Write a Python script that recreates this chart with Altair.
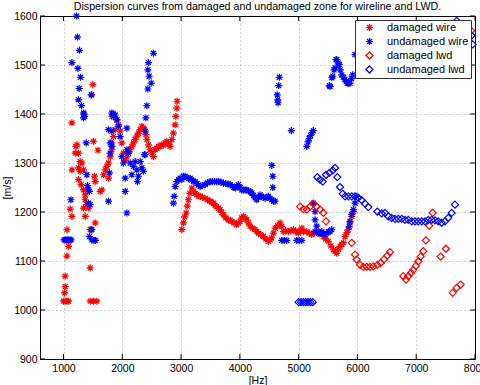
import altair as alt
import pandas as pd

# damaged zone, wireline (red asterisks)
dw_f = [1000, 1030, 1060, 1085, 1017, 1029, 1029, 1058, 1085, 1058,
        1143, 1114, 1143, 1143, 1199, 1211, 1228, 1255, 1255, 1255,
        1284, 1284, 1301, 1313, 1340, 1340, 1340, 1369, 1369, 1369,
        1397, 1425, 1454, 1454, 1454, 1510, 1567, 1482, 1500, 1510,
        1527, 1539, 1539, 1585, 1624, 1652, 1680, 1709, 1737, 1765,
        1765, 1794, 1823, 1823, 1823, 1850, 1879, 1908, 1935, 1964,
        1992, 2020, 2049, 2078, 2105, 2133, 2162, 2190, 2219, 2247,
        2275, 2304, 2333, 2360, 2377, 2400, 2418, 2446, 2474, 2502,
        2530, 2559, 2587, 2615, 2643, 2672, 2700, 2729, 2758, 2786,
        2814, 2843, 2870, 2899, 2911, 2928, 2933,
        3013, 3040, 3060, 3086, 3105, 3125, 3150, 3183, 3210, 3240,
        3268, 3296, 3324, 3360, 3409, 3450, 3494, 3520, 3550, 3580,
        3607, 3635, 3664, 3692, 3720, 3760, 3805, 3834, 3862, 3900,
        3947, 3975, 4004, 4030, 4060, 4090, 4118, 4145, 4174, 4215,
        4259, 4290, 4315, 4355, 4400, 4440, 4485, 4515, 4543, 4570,
        4599, 4640, 4684, 4712, 4740, 4780, 4825, 4868, 4910, 4950,
        4995, 5025, 5053, 5080, 5138, 5180, 5223, 5265, 5308, 5360,
        5421, 5460, 5506, 5550, 5591, 5620, 5648, 5680, 5704, 5735,
        5761, 5789, 5820, 5845, 5874, 5903, 5931]
dw_v = [1018, 1018, 1018, 1018, 1035, 1048, 1069, 1110, 1130, 1164,
        1191, 1206, 1286, 1382, 1320, 1334, 1337, 1320, 1290, 1266,
        1303, 1283, 1256, 1300, 1286, 1245, 1208, 1235, 1225, 1191,
        1215, 1208, 1164, 1086, 1018, 1018, 1018, 1439, 1460, 1344,
        1273, 1262, 1178, 1326, 1242, 1245, 1276, 1286, 1293, 1300,
        1269, 1313, 1327, 1341, 1395, 1354, 1368, 1388, 1378, 1365,
        1341, 1320, 1306, 1313, 1320, 1327, 1334, 1341, 1348, 1355,
        1361, 1368, 1375, 1371, 1368, 1358, 1348, 1337, 1327, 1320,
        1313, 1327, 1330, 1334, 1334, 1337, 1337, 1341, 1344, 1339,
        1334, 1348, 1361, 1378, 1395, 1412, 1426,
        1164, 1178, 1190, 1198, 1212, 1225, 1238, 1249, 1242, 1238,
        1235, 1233, 1232, 1230, 1228, 1225, 1222, 1220, 1218, 1213,
        1211, 1208, 1205, 1199, 1194, 1188, 1184, 1183, 1181, 1178,
        1174, 1178, 1181, 1188, 1191, 1188, 1184, 1178, 1171, 1167,
        1164, 1160, 1157, 1154, 1150, 1145, 1140, 1143, 1147, 1157,
        1167, 1172, 1178, 1170, 1160, 1162, 1160, 1162, 1164, 1160,
        1157, 1162, 1167, 1160, 1160, 1157, 1154, 1157, 1160, 1155,
        1150, 1145, 1140, 1131, 1123, 1120, 1116, 1124, 1130, 1134,
        1137, 1150, 1158, 1164, 1178, 1191, 1201]

# undamaged zone, wireline (blue asterisks)
uw_f = [1010, 1030, 1050, 1070, 1090, 1110, 1130, 1126, 1143, 1221,
        1238, 1245, 1255, 1267, 1272, 1289, 1306, 1340, 1347, 1340,
        1360, 1386, 1397, 1408, 1425, 1425, 1442, 1454, 1471, 1482,
        1442, 1482, 1520, 1545, 1471,
        1765, 1765, 1782, 1794, 1794, 1823, 1823, 1823, 1845, 1850,
        1879, 1908, 1935, 1964, 1992, 2020, 2049, 2049, 2078, 2078,
        2105, 2134, 2162, 2190, 2219, 2248, 2258, 2275, 2304, 2333,
        2360, 2389, 2078,
        2377, 2389, 2401, 2418, 2435, 2457, 2491, 2435, 2445, 2530,
        2870, 2882, 2899, 2928, 2960, 2984,
        3013, 3040, 3069, 3100, 3125, 3154, 3180, 3210, 3239, 3270,
        3296, 3324, 3360, 3409, 3450, 3494, 3530, 3570, 3607, 3640,
        3680, 3720, 3760, 3800, 3834, 3870, 3900, 3919, 3950, 3975,
        4005, 4033, 4060, 4090, 4118, 4150, 4180, 4203, 4230, 4260,
        4288, 4315, 4344, 4370, 4400, 4429, 4460, 4485, 4515, 4543,
        4570, 4599, 4543, 4560, 4560,
        4637, 4645, 4650, 4661, 4672, 4876,
        5138, 5160, 5180, 5200, 5230, 5250,
        4713, 4755, 4798, 4968, 5010, 5053,
        5250, 5279, 5279, 5308, 5279, 5340, 5370, 5393, 5420, 5449,
        5480, 5506, 5534, 5563, 5860, 5874, 5903, 5931, 5959, 5988,
        5522, 5534, 5563, 5580, 5602, 5619, 5636, 5648, 5675, 5692,
        5710, 5733, 5760, 5789, 5810, 5828, 5850, 5874, 5900, 5920,
        5959]
uw_v = [1143, 1143, 1143, 1143, 1143, 1143, 1143, 1225, 1505, 1600,
        1557, 1493, 1429, 1452, 1530, 1475, 1417, 1402, 1400, 1392,
        1395, 1341, 1276, 1254, 1245, 1218, 1242, 1215, 1439, 1164,
        1150, 1143, 1142, 1142, 1164,
        1222, 1368, 1280, 1341, 1320, 1402, 1365, 1334, 1400, 1395,
        1398, 1388, 1375, 1354, 1313, 1300, 1269, 1242, 1198, 1371,
        1320, 1300, 1276, 1293, 1303, 1286, 1262, 1273, 1303, 1290,
        1283, 1317, 1327,
        1317, 1365, 1392, 1417, 1451, 1477, 1463, 1490, 1505, 1524,
        1218, 1232, 1252, 1262, 1266, 1269,
        1266, 1273, 1273, 1270, 1268, 1269, 1265, 1263, 1262, 1258,
        1255, 1252, 1254, 1256, 1260, 1262, 1262, 1262, 1262, 1262,
        1261, 1259, 1258, 1257, 1256, 1253, 1250, 1249, 1252, 1256,
        1250, 1245, 1245, 1245, 1245, 1243, 1241, 1239, 1234, 1229,
        1225, 1230, 1235, 1232, 1230, 1228, 1230, 1232, 1228, 1225,
        1222, 1222, 1295, 1273, 1250,
        1439, 1429, 1423, 1458, 1475, 1366,
        1334, 1343, 1350, 1356, 1362, 1366,
        1142, 1142, 1142, 1142, 1142, 1142,
        1218, 1201, 1184, 1171, 1160, 1157, 1158, 1160, 1156, 1154,
        1157, 1160, 1160, 1164, 1170, 1181, 1195, 1205, 1218, 1232,
        1458, 1456, 1474, 1477, 1490, 1494, 1511, 1511, 1504, 1501,
        1490, 1480, 1475, 1470, 1466, 1463, 1463, 1463, 1472, 1480,
        1521]

# damaged zone, LWD (red diamonds)
dl_f = [5024, 5080, 5138, 5194, 5250, 5308, 5364, 5421, 5466,
        5903, 5959, 5988, 6044, 6100, 6157, 6213, 6270, 6338, 6396,
        6452, 6508, 6554,
        6780, 6826, 6865, 6911, 6950, 6996, 7035, 7075, 7120, 7166,
        7222, 7280, 7416, 7506, 7620, 7688, 7756, 7935]
dl_v = [1211, 1206, 1205, 1211, 1217, 1211, 1205, 1198, 1181,
        1137, 1113, 1103, 1092, 1088, 1088, 1088, 1089, 1092, 1096,
        1103, 1111, 1118,
        1069, 1062, 1069, 1076, 1082, 1090, 1099, 1109, 1120, 1142,
        1172, 1198, 1109, 1125, 1035, 1045, 1052, 1570]

# undamaged zone, LWD (blue diamonds)
ul_f = [5000, 5040, 5080, 5120, 5160, 5200, 5240,
        5318, 5364, 5410, 5466, 5522, 5580, 5619, 5658, 5704, 5750,
        5789, 5845, 5903, 5959, 6015, 6072, 6129, 6185, 6338, 6413,
        6469, 6525, 6582, 6639, 6696, 6753, 6809, 6865, 6923, 6979,
        7035, 7093, 7149, 7205, 7263, 7319, 7375, 7433, 7489, 7545,
        7603, 7659, 7690, 7940, 7960]
ul_v = [1016, 1016, 1016, 1016, 1016, 1016, 1016,
        1271, 1266, 1262, 1276, 1280, 1285, 1290, 1271, 1251, 1237,
        1232, 1232, 1232, 1232, 1229, 1224, 1217, 1210, 1201, 1197,
        1198, 1191, 1188, 1186, 1186, 1186, 1184, 1184, 1181, 1181,
        1181, 1181, 1181, 1184, 1184, 1183, 1181, 1178, 1181, 1188,
        1198, 1215, 1590, 1560, 1542]

series = ["damaged wire", "undamaged wire", "damaged lwd", "undamaged lwd"]
x_ticks = [1000, 2000, 3000, 4000, 5000, 6000, 7000, 8000]
y_ticks = [900, 1000, 1100, 1200, 1300, 1400, 1500, 1600]

FONT = "Liberation Sans"
ASTERISK = "M-1,0L1,0M0,-1L0,1M-0.7,-0.7L0.7,0.7M-0.7,0.7L0.7,-0.7"

frames = []
for name, fs, vs in zip(series, [dw_f, uw_f, dl_f, ul_f], [dw_v, uw_v, dl_v, ul_v]):
    frames.append(pd.DataFrame({"f": fs, "v": vs, "s": name}))
df = pd.concat(frames, ignore_index=True)

W, H = 435, 343
X = alt.X("f:Q", scale=alt.Scale(domain=[600, 8000], nice=False, zero=False),
          axis=alt.Axis(values=x_ticks, format="d", title="[Hz]", labelFlush=False,
                        labelPadding=4, titlePadding=2))
Y = alt.Y("v:Q", scale=alt.Scale(domain=[900, 1600], nice=False, zero=False),
          axis=alt.Axis(values=y_ticks, format="d", title="[m/s]", labelPadding=3,
                        titlePadding=1))

legend = alt.Legend(
    title=None, orient="none", legendX=315, legendY=4,
    fillColor="white", strokeColor="#333333", padding=2,
    symbolOffset=7, labelOffset=12, labelFont=FONT, labelFontSize=11,
    labelColor="black", rowPadding=1, symbolSize=50, symbolStrokeWidth=1.2,
)

points = alt.Chart(df).mark_point(filled=False, size=50, strokeWidth=1.2, opacity=1).encode(
    x=X, y=Y,
    color=alt.Color("s:N", scale=alt.Scale(domain=series,
                    range=["#ff0000", "#0000ff", "#ff0000", "#0000ff"]), legend=legend),
    shape=alt.Shape("s:N", scale=alt.Scale(domain=series,
                    range=[ASTERISK, ASTERISK, "diamond", "diamond"]), legend=legend),
)

# inward-pointing ticks on all four sides of the frame
xt = pd.DataFrame({"f": x_ticks})
yt = pd.DataFrame({"v": y_ticks})
tick_len = 5
bottom_ticks = alt.Chart(xt).mark_rule(color="black", strokeWidth=1).encode(
    x=X, y=alt.value(H), y2=alt.value(H - tick_len))
top_ticks = alt.Chart(xt).mark_rule(color="black", strokeWidth=1).encode(
    x=X, y=alt.value(0), y2=alt.value(tick_len))
left_ticks = alt.Chart(yt).mark_rule(color="black", strokeWidth=1).encode(
    y=Y, x=alt.value(0), x2=alt.value(tick_len))
right_ticks = alt.Chart(yt).mark_rule(color="black", strokeWidth=1).encode(
    y=Y, x=alt.value(W), x2=alt.value(W - tick_len))

chart = alt.layer(points, bottom_ticks, top_ticks, left_ticks, right_ticks).properties(
    width=W, height=H,
    title=alt.TitleParams(
        "Dispersion curves from damaged and undamaged zone for wireline and LWD.",
        font=FONT, fontSize=10.7, fontWeight="normal", color="black",
        anchor="middle", frame="group", offset=4, dy=6.5),
    padding={"left": 40, "top": 16, "right": 5, "bottom": 26},
    autosize="none",
).configure_view(
    stroke="black", strokeWidth=1
).configure_axis(
    labelFont=FONT, labelFontSize=10.5, labelColor="black",
    titleFont=FONT, titleFontSize=10.5, titleFontWeight="normal", titleColor="black",
    domain=False, ticks=False, grid=True,
    gridColor="#000000", gridOpacity=0.35, gridDash=[1, 3], gridWidth=1,
)

chart.save("out.html", embed_options={"renderer": "svg", "actions": False})
